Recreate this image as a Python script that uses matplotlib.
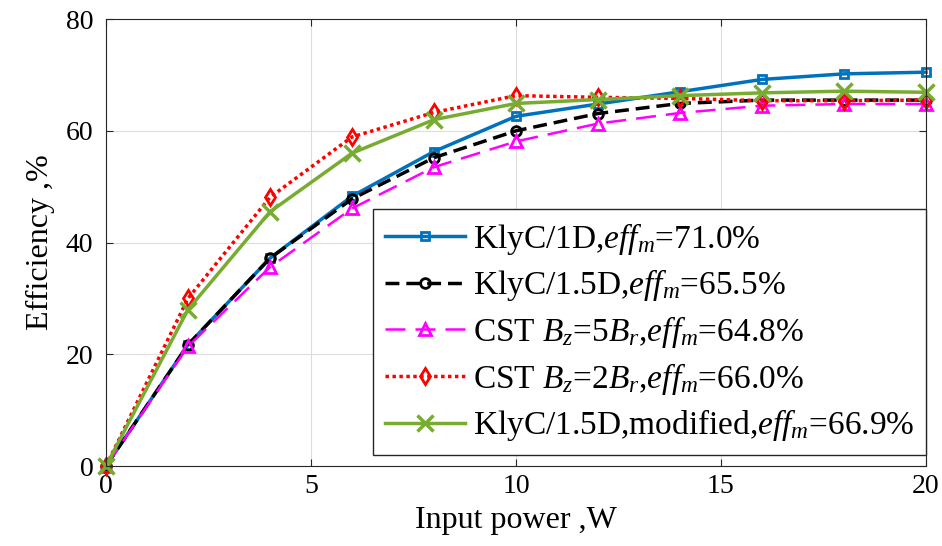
import matplotlib
matplotlib.use('Agg')
import matplotlib.pyplot as plt

plt.rcParams['font.family'] = ['Liberation Serif', 'DejaVu Serif']
plt.rcParams['mathtext.fontset'] = 'custom'
plt.rcParams['mathtext.rm'] = 'Liberation Serif'
plt.rcParams['mathtext.it'] = 'Liberation Serif:italic'

power = [0, 2, 4, 6, 8, 10, 12, 14, 16, 18, 20]
klyc_1d = [0, 21.7, 37.2, 48.3, 56.3, 62.6, 64.8, 67.0, 69.2, 70.2, 70.5]
klyc_15d = [0, 21.7, 37.2, 47.8, 55.2, 60.0, 63.1, 64.9, 65.5, 65.5, 65.5]
cst_5br = [0, 21.4, 35.6, 46.1, 53.5, 58.1, 61.3, 63.2, 64.5, 64.8, 64.8]
cst_2br = [0, 30.0, 48.1, 58.9, 63.3, 66.3, 66.0, 65.8, 65.4, 65.4, 65.5]
klyc_mod = [0, 28.0, 45.5, 56.0, 62.0, 64.9, 65.6, 66.3, 66.8, 67.1, 66.9]

labels = [
    r'KlyC/1D,$\mathit{eff}_m$=71.0%',
    r'KlyC/1.5D,$\mathit{eff}_m$=65.5%',
    r'CST $\mathit{B_z}$=5$\mathit{B_r}$,$\mathit{eff}_m$=64.8%',
    r'CST $\mathit{B_z}$=2$\mathit{B_r}$,$\mathit{eff}_m$=66.0%',
    r'KlyC/1.5D,modified,$\mathit{eff}_m$=66.9%',
]

fig = plt.figure(figsize=(9.42, 5.46), dpi=100)
ax = fig.add_axes([0.1125, 0.1465, 0.8705, 0.8185])

ax.plot(power, klyc_1d, color='#0072BD', lw=2.5, marker='s', ms=6,
        mfc='none', mew=2, label=labels[0], clip_on=False)
ax.plot(power, klyc_15d, color='black', lw=2.5, ls=(0, (4, 2)), marker='o', ms=7,
        mfc='none', mew=2, label=labels[1], clip_on=False)
ax.plot(power, cst_5br, color='#FF00FF', lw=1.8, ls=(0, (8, 4)), marker='^', ms=9,
        mfc='none', mew=2, label=labels[2], clip_on=False)
ax.plot(power, cst_2br, color='#FF0000', lw=2.5, ls=(0, (1, 1)), marker='d', ms=8,
        mfc='none', mew=2, label=labels[3], clip_on=False)
ax.plot(power, klyc_mod, color='#77AC30', lw=2.5, marker='x', ms=12,
        mew=2.5, label=labels[4], clip_on=False)

ax.set_xlim(0, 20)
ax.set_ylim(0, 80)
ax.set_xticks([0, 5, 10, 15, 20])
ax.set_yticks([0, 20, 40, 60, 80])
ax.grid(True, color='#dddddd', lw=0.8)
ax.tick_params(direction='in', top=True, right=True, labelsize=20, length=5,
               color='#262626', pad=6)
ax.tick_params(axis='y', pad=9)
for s in ax.spines.values():
    s.set_color('#262626')
    s.set_linewidth(0.8)

ax.set_xlabel('Input power ,W', fontsize=23, labelpad=5)
ax.set_ylabel('Efficiency ,%', fontsize=23, labelpad=8)

leg = ax.legend(loc='lower right', bbox_to_anchor=(1.0, 0.025), fontsize=24,
                fancybox=False, edgecolor='#262626', framealpha=1,
                handlelength=2.4, handletextpad=0.25, borderpad=0.35,
                labelspacing=0.32, borderaxespad=0)
leg.set_zorder(5)

fig.savefig('out.png', dpi=100)
